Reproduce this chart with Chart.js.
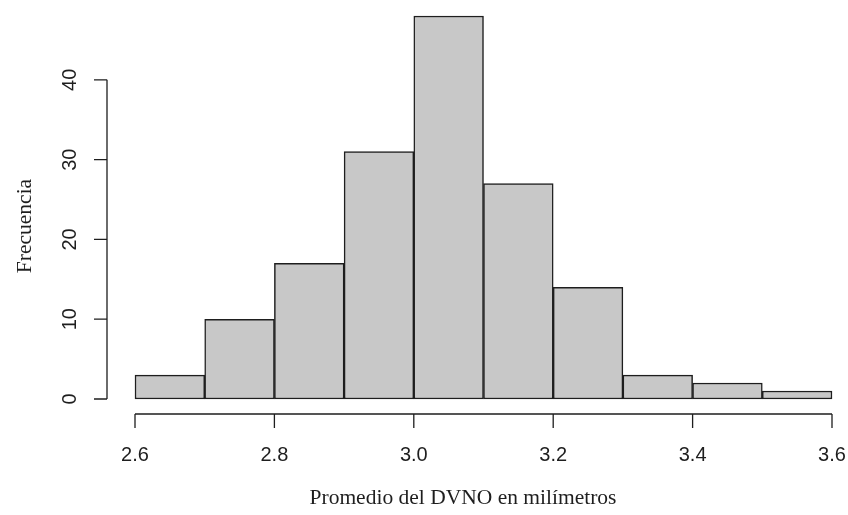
<!DOCTYPE html>
<html>
<head>
<meta charset="utf-8">
<script src="https://cdn.jsdelivr.net/npm/chart.js@4"></script>
<style>
  html, body { margin: 0; padding: 0; background: #fff; }
  #wrap { width: 848px; height: 515px; }
</style>
</head>
<body>
<div id="wrap"><canvas id="hist" width="848" height="515"></canvas></div>
<script>
// limites de las clases y frecuencias del histograma
const cortes = [2.6, 2.7, 2.8, 2.9, 3.0, 3.1, 3.2, 3.3, 3.4, 3.5, 3.6];
const frecuencias = [3, 10, 17, 31, 48, 27, 14, 3, 2, 1];
const ticksX = [2.6, 2.8, 3.0, 3.2, 3.4, 3.6];
const ticksY = [0, 10, 20, 30, 40];
const tituloX = "Promedio del DVNO en milímetros";
const tituloY = "Frecuencia";

const puntos = frecuencias.map((f, i) => ({ x: (cortes[i] + cortes[i + 1]) / 2, y: f }));

const tinta = "#1e1e1e";

// ejes al estilo de R, separados del area de las barras
const ejesR = {
  id: "ejesR",
  afterDraw(chart) {
    const { ctx, scales: { x, y }, chartArea } = chart;
    ctx.save();
    ctx.strokeStyle = tinta;
    ctx.fillStyle = tinta;
    ctx.lineWidth = 1.3;

    // eje x
    const yEje = chartArea.bottom + 15;
    ctx.beginPath();
    ctx.moveTo(x.getPixelForValue(ticksX[0]), yEje);
    ctx.lineTo(x.getPixelForValue(ticksX[ticksX.length - 1]), yEje);
    for (const t of ticksX) {
      const px = x.getPixelForValue(t);
      ctx.moveTo(px, yEje);
      ctx.lineTo(px, yEje + 14);
    }
    ctx.stroke();
    ctx.font = "20px 'Liberation Sans', Arial, sans-serif";
    ctx.textAlign = "center";
    ctx.textBaseline = "middle";
    for (const t of ticksX) {
      ctx.fillText(t.toFixed(1), x.getPixelForValue(t), yEje + 41);
    }

    // eje y
    const xEje = chartArea.left - 28;
    ctx.beginPath();
    ctx.moveTo(xEje, y.getPixelForValue(ticksY[0]));
    ctx.lineTo(xEje, y.getPixelForValue(ticksY[ticksY.length - 1]));
    for (const t of ticksY) {
      const py = y.getPixelForValue(t);
      ctx.moveTo(xEje, py);
      ctx.lineTo(xEje - 13, py);
    }
    ctx.stroke();
    for (const t of ticksY) {
      ctx.save();
      ctx.translate(xEje - 37, y.getPixelForValue(t));
      ctx.rotate(-Math.PI / 2);
      ctx.fillText(String(t), 0, 0);
      ctx.restore();
    }

    // titulos
    ctx.font = "21.5px 'Liberation Serif', 'Times New Roman', serif";
    ctx.fillText(tituloX, 463, 498);
    ctx.save();
    ctx.translate(25, 226);
    ctx.rotate(-Math.PI / 2);
    ctx.fillText(tituloY, 0, 0);
    ctx.restore();
    ctx.restore();
  }
};

new Chart(document.getElementById("hist"), {
  type: "bar",
  data: {
    datasets: [{
      data: puntos,
      backgroundColor: "rgb(200,200,200)",
      borderColor: tinta,
      borderWidth: 1.5,
      borderSkipped: false,
      barPercentage: 1,
      categoryPercentage: 1,
      clip: false
    }]
  },
  options: {
    responsive: false,
    animation: false,
    layout: { padding: { left: 135, right: 16, top: 16, bottom: 116 } },
    plugins: { legend: { display: false }, tooltip: { enabled: false } },
    scales: {
      x: { type: "linear", min: 2.6, max: 3.6, offset: false, display: false, ticks: { stepSize: 0.1 } },
      y: { min: 0, max: 48, display: false }
    }
  },
  plugins: [ejesR]
});
</script>
</body>
</html>
